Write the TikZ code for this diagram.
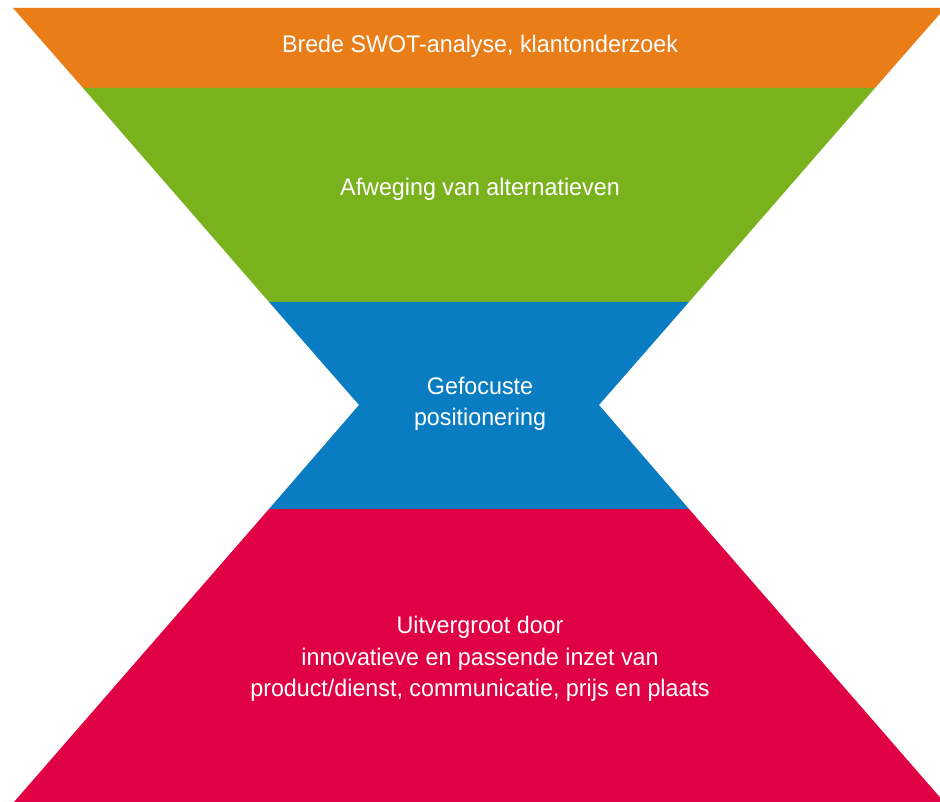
\documentclass[tikz,border=0pt]{standalone}
\usepackage{fontspec}
\setmainfont[FakeStretch=0.97]{Liberation Sans}
\definecolor{swotorange}{RGB}{233,125,24}
\definecolor{altgreen}{RGB}{122,178,30}
\definecolor{posblue}{RGB}{10,124,194}
\definecolor{mixred}{RGB}{224,0,68}
\begin{document}
\begin{tikzpicture}[x=1pt,y=-1pt]

% definitions
\tikzstyle{band} = [draw=none]
\tikzstyle{label} = [text=white, align=center, inner sep=0pt, font=\fontsize{24}{31.5}\selectfont]

\useasboundingbox (0,0) rectangle (940,802);
\clip (0,0) rectangle (940,802);

% the funnel
\fill [band, swotorange] (13,8) -- (945,8) -- (875,88) -- (83,88) -- cycle;
\fill [band, altgreen] (83,88) -- (875,88) -- (689,302) -- (269,302) -- cycle;
\fill [band, posblue] (269,302) -- (689,302) -- (599,405) -- (689,509) -- (269,509) -- (359,405) -- cycle;
\fill [band, mixred] (269,509) -- (689,509) -- (944,802) -- (14,802) -- cycle;

% the labels
\node (l0) [label] at (480,46) {Brede SWOT-analyse, klantonderzoek};

\node (l1) [label] at (480,189) {Afweging van alternatieven};

\node (l2) [label] at (480,404) {Gefocuste\\positionering};

\node (l3) [label] at (480,659) {Uitvergroot door\\innovatieve en passende inzet van\\product/dienst, communicatie, prijs en plaats};

\end{tikzpicture}
\end{document}
